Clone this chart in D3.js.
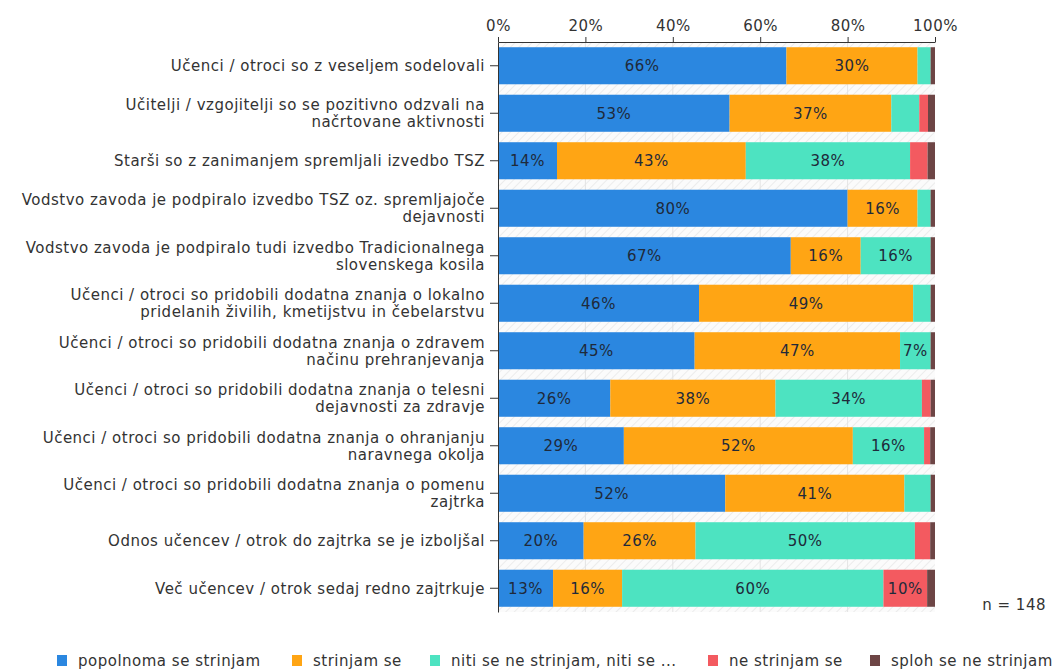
<!DOCTYPE html>
<html>
<head>
<meta charset="utf-8">
<script src="https://cdn.jsdelivr.net/npm/d3@7"></script>
<style>
  body { margin: 0; background: #fff; }
  svg text { font-family: "DejaVu Sans", Verdana, sans-serif; fill: #333; letter-spacing: 0.5px; }
</style>
</head>
<body>
<svg id="chart" width="1057" height="670"></svg>
<script>
// Statements (rows, top to bottom); "\n" marks a line break in the label
var statements = [
    "Učenci / otroci so z veseljem sodelovali",
    "Učitelji / vzgojitelji so se pozitivno odzvali na\nnačrtovane aktivnosti",
    "Starši so z zanimanjem spremljali izvedbo TSZ",
    "Vodstvo zavoda je podpiralo izvedbo TSZ oz. spremljajoče\ndejavnosti",
    "Vodstvo zavoda je podpiralo tudi izvedbo Tradicionalnega\nslovenskega kosila",
    "Učenci / otroci so pridobili dodatna znanja o lokalno\npridelanih živilih, kmetijstvu in čebelarstvu",
    "Učenci / otroci so pridobili dodatna znanja o zdravem\nnačinu prehranjevanja",
    "Učenci / otroci so pridobili dodatna znanja o telesni\ndejavnosti za zdravje",
    "Učenci / otroci so pridobili dodatna znanja o ohranjanju\nnaravnega okolja",
    "Učenci / otroci so pridobili dodatna znanja o pomenu\nzajtrka",
    "Odnos učencev / otrok do zajtrka se je izboljšal",
    "Več učencev / otrok sedaj redno zajtrkuje"
];

// Answer categories (legend order)
var answers = ["popolnoma se strinjam", "strinjam se", "niti se ne strinjam, niti se ...", "ne strinjam se", "sploh se ne strinjam"];
var answerColors = ["#2b87e0", "#ffa514", "#4de3c1", "#f35a60", "#6d4545"];

// Percentages per answer, one value per statement
var fullyAgree  = [66, 53, 13.5, 80, 67, 46, 45, 25.7, 28.8, 52, 19.6, 12.6];
var agree       = [30, 37, 43.2, 16, 16, 49, 47, 37.8, 52.4, 41, 25.6, 15.8];
var neutral     = [3, 6.4, 37.6, 3, 16, 4, 7, 33.5, 16.3, 6, 50.2, 59.8];
var disagree    = [0, 2, 4.0, 0, 0, 0, 0, 2, 1.4, 0, 3.5, 10];
var fullyDisagree = [1, 1.6, 1.7, 1, 1, 1, 1, 1, 1.1, 1, 1.1, 1.8];

var axisTicks = [0, 20, 40, 60, 80, 100];
var sampleNote = "n = 148";

var series = [fullyAgree, agree, neutral, disagree, fullyDisagree];

var svg = d3.select("#chart");
var margin = {left: 498, right: 122, top: 42, bottom: 58};
var width = 1057 - margin.left - margin.right;
var height = 670 - margin.top - margin.bottom;

var g = svg.append("g").attr("transform", "translate(" + margin.left + "," + margin.top + ")");

var x = d3.scaleLinear().domain([0, 100]).range([0, width]);
var y = d3.scaleBand().domain(d3.range(statements.length)).range([0, height]).paddingInner(0.22).paddingOuter(0.11);

// hatched background between bars
var defs = svg.append("defs");
var pat = defs.append("pattern").attr("id", "hatch").attr("patternUnits", "userSpaceOnUse")
    .attr("width", 6).attr("height", 6).attr("patternTransform", "rotate(45)");
pat.append("rect").attr("width", 6).attr("height", 6).attr("fill", "#fbfbfb");
pat.append("line").attr("x1", 0).attr("y1", 0).attr("x2", 0).attr("y2", 6)
    .attr("stroke", "#ececec").attr("stroke-width", 2);

g.append("rect").attr("width", width).attr("height", height).attr("fill", "url(#hatch)");

// faint vertical gridlines
g.selectAll(".grid").data(axisTicks.slice(1, -1)).enter().append("line")
    .attr("x1", d => x(d)).attr("x2", d => x(d)).attr("y1", 0).attr("y2", height)
    .attr("stroke", "#e4e4e4");

// stacked segments
var rows = statements.map(function(s, i) {
    var acc = 0;
    return series.map(function(arr, k) {
        var seg = {row: i, k: k, v: arr[i], x0: acc, x1: acc + arr[i]};
        acc += arr[i];
        return seg;
    });
});
var segs = rows.flat().filter(d => d.v > 0);

g.selectAll(".seg").data(segs).enter().append("rect")
    .attr("x", d => x(d.x0))
    .attr("y", d => y(d.row))
    .attr("width", d => x(d.x1) - x(d.x0))
    .attr("height", y.bandwidth())
    .attr("fill", d => answerColors[d.k]);

g.selectAll(".seglabel").data(segs.filter(d => Math.round(d.v) >= 7)).enter().append("text")
    .attr("x", d => x((d.x0 + d.x1) / 2))
    .attr("y", d => y(d.row) + y.bandwidth() / 2)
    .attr("dy", "0.36em")
    .attr("text-anchor", "middle")
    .style("font-size", "15px")
    .style("fill", "#1f2a3a")
    .text(d => Math.round(d.v) + "%");

// top axis
var xAxis = g.append("g").call(d3.axisTop(x).tickValues(axisTicks).tickFormat(d => d + "%").tickSize(5).tickSizeOuter(0));
xAxis.select(".domain").attr("stroke", "#333");
xAxis.selectAll(".tick line").attr("stroke", "#333");
xAxis.selectAll("text").style("font-size", "15px").attr("y", -11);

// left axis with wrapped labels
var yAxis = g.append("g").call(d3.axisLeft(y).tickSize(8).tickSizeOuter(0).tickFormat(""));
yAxis.select(".domain").attr("stroke", "#333");
yAxis.selectAll(".tick line").attr("stroke", "#333");
yAxis.selectAll(".tick").each(function(i) {
    var lines = statements[i].split("\n");
    var t = d3.select(this).append("text")
        .attr("x", -13).attr("text-anchor", "end")
        .style("font-size", "15px").style("fill", "#333");
    lines.forEach(function(line, j) {
        t.append("tspan").attr("x", -13)
            .attr("dy", j === 0 ? ((0.36 - (lines.length - 1) * 0.56) + "em") : "1.12em")
            .text(line);
    });
});

// sample size note
svg.append("text").attr("x", 1046).attr("y", margin.top + height - 2)
    .attr("text-anchor", "end").style("font-size", "15px").text(sampleNote);

// legend
var legendX = [57, 292, 430, 708, 870];
var legend = svg.selectAll(".legend").data(answers).enter().append("g")
    .attr("transform", (d, i) => "translate(" + legendX[i] + ",655)");
legend.append("rect").attr("width", 10).attr("height", 11).attr("fill", (d, i) => answerColors[i]);
legend.append("text").attr("x", 21).attr("y", 11).style("font-size", "15px").text(d => d);
</script>
</body>
</html>
